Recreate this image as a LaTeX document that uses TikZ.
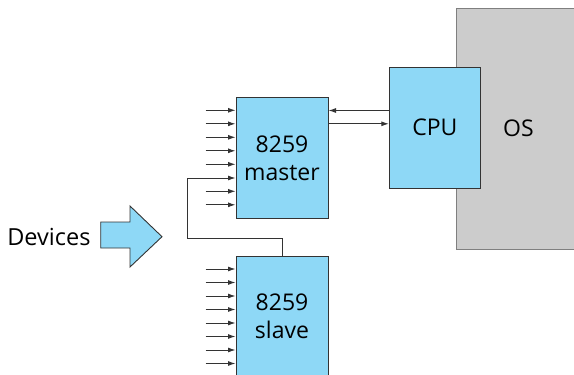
\documentclass[tikz,border=0pt]{standalone}
\usepackage{fontspec}
\setmainfont{Open Sans}
\usetikzlibrary{arrows.meta,positioning,calc}
\definecolor{ChipBlue}{HTML}{8ED8F6}
\definecolor{ChipLine}{HTML}{333333}
\definecolor{OsGray}{HTML}{CCCCCC}
\definecolor{OsLine}{HTML}{7F7F7F}
\definecolor{WireGray}{HTML}{333333}

\tikzset{
  chip/.style={draw=ChipLine,fill=ChipBlue,line width=1pt,minimum width=92pt,minimum height=121pt,
    inner sep=0pt,align=center,font=\fontsize{23}{28}\selectfont},
  irq/.style={-{Latex[length=7.5pt,width=5pt]},WireGray,line width=0.9pt},
}

\begin{document}
\begin{tikzpicture}[x=1pt,y=1pt]
        \useasboundingbox (0,0) rectangle (574,-375);
        % operating system + cpu
        \node[draw=OsLine,fill=OsGray,line width=1pt,minimum width=124pt,minimum height=241pt,
          inner sep=0pt,font=\fontsize{23}{28}\selectfont] (os) at (518.5,-128.5) {\raisebox{-2pt}{OS}};
        \node[chip,minimum width=91pt] (cpu) at (434.8,-127.7) {\raisebox{-2pt}{CPU}};
        % the two controllers
        \node[chip] (master) at (282,-157.8) {8259\\master};
        \node[chip,minimum height=120pt] (slave) at (282,-316) {8259\\slave};
        \foreach \k in {1,2,3,4,5,7,8} {
          \draw[irq] ($(master.north west)+(-30,-13.5*\k)$) -- +(30,0);
        }
        \foreach \k in {1,...,8} {
          \draw[irq] ($(slave.north west)+(-30,-13.5*\k)$) -- +(30,0);
        }
        % cascade line
        \draw[irq] (slave.north) |- (187,-238) |- ([yshift=-20.2]master.west);
        % bus to the cpu
        \draw[irq] ([yshift=34]master.east) -- ([yshift=34]master.east -| cpu.west);
        \draw[irq] ([yshift=47.3]master.east -| cpu.west) -- ([yshift=47.3]master.east);
        % devices
        \draw[draw=ChipLine,fill=ChipBlue,line width=0.9pt] (100.7,-222) -- (130,-222) -- (130,-206)
          -- (162,-236.7) -- (130,-267) -- (130,-248) -- (100.7,-248) -- cycle;
        \node[font=\fontsize{23.5}{28}\selectfont,anchor=east] (devices) at (94,-237) {Devices};
      \end{tikzpicture}
\end{document}
